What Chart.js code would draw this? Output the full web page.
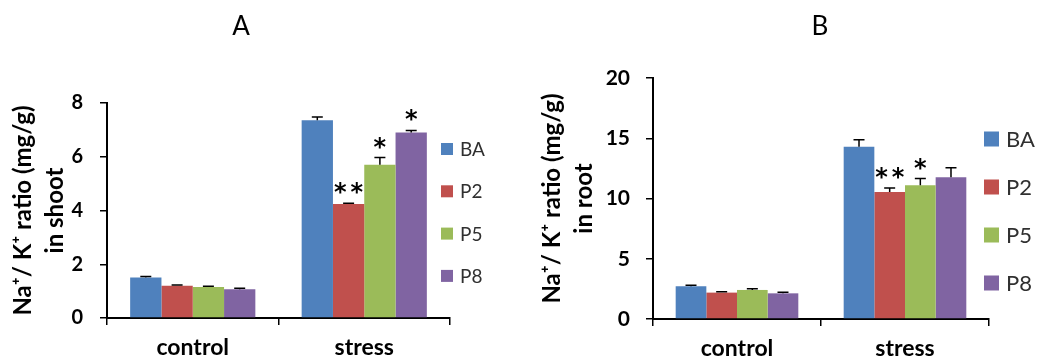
<!DOCTYPE html>
<html>
<head>
<meta charset="utf-8">
<script src="https://cdn.jsdelivr.net/npm/chart.js@4.4.0/dist/chart.umd.min.js"></script>
<style>
body { margin: 0; background: #fff; }
#wrap { position: relative; width: 1038px; height: 360px; }
canvas { position: absolute; top: 0; }
</style>
</head>
<body>
<div id="wrap">
  <canvas id="chartA" width="519" height="360" style="left:0"></canvas>
  <canvas id="chartB" width="519" height="360" style="left:519px"></canvas>
</div>
<script>
// data
const categories = ['control', 'stress'];
const seriesNames = ['BA', 'P2', 'P5', 'P8'];
const seriesColors = ['#4F81BD', '#C0504D', '#9BBB59', '#8064A2'];

// A: shoot
const shootBA = [1.51, 7.36];
const shootP2 = [1.20, 4.24];
const shootP5 = [1.15, 5.70];
const shootP8 = [1.07, 6.90];
const shootErrBA = [0.03, 0.12];
const shootErrP2 = [0.03, 0.03];
const shootErrP5 = [0.03, 0.27];
const shootErrP8 = [0.04, 0.08];
const shootStarsBA = ['', ''];
const shootStarsP2 = ['', '**'];
const shootStarsP5 = ['', '*'];
const shootStarsP8 = ['', '*'];
const shootTicks = [0, 2, 4, 6, 8];

// B: root
const rootBA = [2.71, 14.30];
const rootP2 = [2.19, 10.54];
const rootP5 = [2.41, 11.10];
const rootP8 = [2.13, 11.76];
const rootErrBA = [0.10, 0.58];
const rootErrP2 = [0.08, 0.33];
const rootErrP5 = [0.10, 0.55];
const rootErrP8 = [0.10, 0.80];
const rootStarsBA = ['', ''];
const rootStarsP2 = ['', '**'];
const rootStarsP5 = ['', '*'];
const rootStarsP8 = ['', ''];
const rootTicks = [0, 5, 10, 15, 20];

const FONT = 'Lato, "Open Sans", sans-serif';

// error bars, asterisks, panel title and legend
const extrasPlugin = {
    id: 'extras',
    afterDatasetsDraw(chart) {
        const ctx = chart.ctx;
        const yScale = chart.scales.y;
        const o = chart.options.plugins.extras;
        ctx.save();
        chart.data.datasets.forEach((ds, i) => {
            const meta = chart.getDatasetMeta(i);
            meta.data.forEach((bar, j) => {
                const top = yScale.getPixelForValue(ds.data[j] + ds.errors[j]);
                ctx.strokeStyle = '#000';
                ctx.lineWidth = 1.5;
                ctx.beginPath();
                ctx.moveTo(bar.x, bar.y);
                ctx.lineTo(bar.x, top);
                ctx.moveTo(bar.x - 5.5, top);
                ctx.lineTo(bar.x + 5.5, top);
                ctx.stroke();

                const stars = ds.stars[j];
                if (stars) {
                    ctx.fillStyle = '#000';
                    ctx.font = o.starFont;
                    ctx.textAlign = 'center';
                    ctx.textBaseline = 'alphabetic';
                    const m = ctx.measureText('*');
                    const cy = top - 15;
                    const base = cy + (m.actualBoundingBoxAscent - m.actualBoundingBoxDescent) / 2;
                    const gap = 16.5;
                    for (let k = 0; k < stars.length; k++) {
                        const cx = bar.x + (k - (stars.length - 1) / 2) * gap;
                        ctx.fillText('*', cx, base);
                    }
                }
            });
        });
        ctx.restore();
    },
    afterDraw(chart) {
        const ctx = chart.ctx;
        const o = chart.options.plugins.extras;
        ctx.save();
        ctx.fillStyle = '#000';
        ctx.font = '26px ' + FONT;
        ctx.textAlign = 'center';
        ctx.textBaseline = 'middle';
        ctx.fillText(o.panel, o.panelX, 27);

        ctx.font = o.legendFont;
        ctx.textAlign = 'left';
        chart.data.datasets.forEach((ds, i) => {
            const cy = o.legendY + i * o.legendGap;
            ctx.fillStyle = ds.backgroundColor;
            ctx.fillRect(o.legendX, cy - o.box / 2, o.box, o.box);
            ctx.fillStyle = '#303030';
            ctx.fillText(ds.label, o.legendTextX, cy + 1);
        });
        ctx.restore();
    }
};

function makeChart(id, cfg) {
    const datasets = seriesNames.map((name, i) => ({
        label: name,
        data: cfg.values[i],
        errors: cfg.errors[i],
        stars: cfg.stars[i],
        backgroundColor: seriesColors[i],
        borderWidth: 0,
        categoryPercentage: 0.73,
        barPercentage: 1.0
    }));

    return new Chart(document.getElementById(id), {
        type: 'bar',
        data: { labels: categories, datasets: datasets },
        plugins: [extrasPlugin],
        options: {
            responsive: false,
            animation: false,
            devicePixelRatio: 1,
            layout: { padding: { top: cfg.top, right: cfg.right, bottom: 0, left: 0 } },
            plugins: {
                legend: { display: false },
                tooltip: { enabled: false },
                extras: cfg.extras
            },
            scales: {
                x: {
                    offset: true,
                    afterFit(scale) { scale.height = 360 - cfg.bottomY; },
                    grid: { display: true, offset: true, drawOnChartArea: false, tickLength: 7, color: '#000', lineWidth: 1.5 },
                    border: { display: true, color: '#000', width: 2 },
                    ticks: { color: '#000', padding: 9, font: { family: FONT, size: 23, weight: 'bold' } }
                },
                y: {
                    min: 0,
                    max: cfg.ticks[cfg.ticks.length - 1],
                    afterFit(scale) { scale.width = cfg.axisX; },
                    afterBuildTicks(scale) { scale.ticks = cfg.ticks.map(v => ({ value: v })); },
                    grid: { display: true, drawOnChartArea: false, tickLength: 7, color: '#000', lineWidth: 1.5 },
                    border: { display: true, color: '#000', width: 2 },
                    ticks: { color: '#000', padding: cfg.tickPad, font: { family: FONT, size: cfg.tickSize, weight: 'bold' } },
                    title: {
                        display: true,
                        text: cfg.yTitle,
                        color: '#000',
                        padding: { top: cfg.titlePad, bottom: 0 },
                        font: { family: FONT, size: 24, weight: 'bold', lineHeight: 1.35 }
                    }
                }
            }
        }
    });
}

makeChart('chartA', {
    values: [shootBA, shootP2, shootP5, shootP8],
    errors: [shootErrBA, shootErrP2, shootErrP5, shootErrP8],
    stars: [shootStarsBA, shootStarsP2, shootStarsP5, shootStarsP8],
    ticks: shootTicks,
    yTitle: ['Na\u207A/ K\u207A ratio (mg/g)', 'in shoot'],
    axisX: 107, top: 103, right: 69, bottomY: 318,
    tickPad: 17, tickSize: 20, titlePad: 7,
    extras: {
        panel: 'A', panelX: 241,
        legendX: 441, legendTextX: 460, legendY: 149, legendGap: 42.3, box: 12,
        legendFont: '19px ' + FONT,
        starFont: 'bold 24px "DejaVu Sans"'
    }
});

makeChart('chartB', {
    values: [rootBA, rootP2, rootP5, rootP8],
    errors: [rootErrBA, rootErrP2, rootErrP5, rootErrP8],
    stars: [rootStarsBA, rootStarsP2, rootStarsP5, rootStarsP8],
    ticks: rootTicks,
    yTitle: ['Na\u207A/ K\u207A ratio (mg/g)', 'in root'],
    axisX: 134, top: 78, right: 49, bottomY: 319,
    tickPad: 16, tickSize: 21, titlePad: 17,
    extras: {
        panel: 'B', panelX: 301,
        legendX: 465, legendTextX: 487, legendY: 139, legendGap: 48, box: 15,
        legendFont: '22px ' + FONT,
        starFont: 'bold 24px "DejaVu Sans"'
    }
});
</script>
</body>
</html>
